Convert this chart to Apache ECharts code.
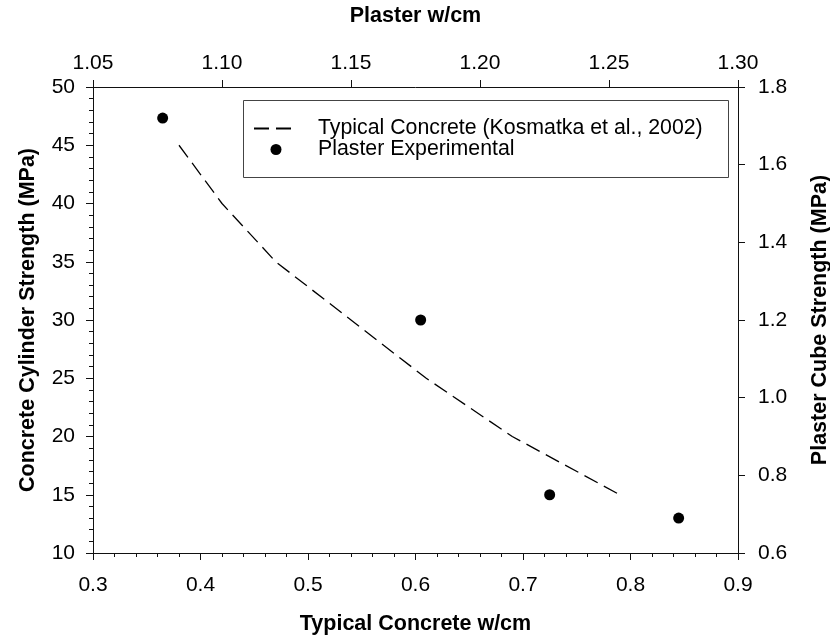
<!DOCTYPE html>
<html>
<head>
<meta charset="utf-8">
<script src="https://cdn.jsdelivr.net/npm/echarts@6/dist/echarts.min.js"></script>
<style>html,body{margin:0;padding:0;background:#fff}#c{width:830px;height:642px}</style>
</head>
<body>
<div id="c"></div>
<script>
// Typical concrete (Kosmatka et al., 2002)
var concreteWcm = [0.38, 0.42, 0.47, 0.54, 0.61, 0.69, 0.79];
var concreteStrength = [45, 40, 35, 30, 25, 20, 15];
// Plaster experimental
var plasterWcm = [1.077, 1.177, 1.227, 1.277];
var plasterStrength = [1.72, 1.20, 0.75, 0.69];

var seriesNames = ['Typical Concrete (Kosmatka et al., 2002)', 'Plaster Experimental'];

var FONT = '"Liberation Sans", Arial, sans-serif';
var axisCol = '#111';

function pairs(xs, ys) { return xs.map(function (x, i) { return [x, ys[i]]; }); }

var chart = echarts.init(document.getElementById('c'));
var labelStyle = { color: '#000', fontFamily: FONT, fontSize: 21 };
var nameStyle = { color: '#000', fontFamily: FONT, fontSize: 21.5, fontWeight: 'bold' };

chart.setOption({
  animation: false,
  backgroundColor: '#fff',
  grid: { left: 93, right: 92, top: 87, bottom: 89, containLabel: false, outerBoundsMode: 'none' },
  xAxis: [
    {
      type: 'value', position: 'bottom', min: 0.3, max: 0.9, interval: 0.1,
      name: 'Typical Concrete w/cm', nameLocation: 'middle', nameGap: 60, nameTextStyle: nameStyle,
      axisLine: { show: true, onZero: false, lineStyle: { color: axisCol, width: 1 } },
      axisTick: { show: true, inside: false, length: 7, lineStyle: { color: axisCol } },
      minorTick: { show: true, splitNumber: 5, length: 4, lineStyle: { color: axisCol } },
      splitLine: { show: false },
      axisLabel: Object.assign({ margin: 22, formatter: function (v) { return v.toFixed(1); } }, labelStyle)
    },
    {
      type: 'value', position: 'top', min: 1.05, max: 1.30, interval: 0.05,
      name: 'Plaster w/cm', nameLocation: 'middle', nameGap: 60, nameTextStyle: nameStyle,
      axisLine: { show: true, onZero: false, lineStyle: { color: axisCol, width: 1 } },
      axisTick: { show: true, inside: false, length: 7, lineStyle: { color: axisCol } },
      splitLine: { show: false },
      axisLabel: Object.assign({ margin: 13, formatter: function (v) { return v.toFixed(2); } }, labelStyle)
    }
  ],
  yAxis: [
    {
      type: 'value', position: 'left', min: 10, max: 50, interval: 5,
      name: 'Concrete Cylinder Strength (MPa)', nameLocation: 'middle', nameGap: 54, nameTextStyle: nameStyle,
      axisLine: { show: true, onZero: false, lineStyle: { color: axisCol, width: 1 } },
      axisTick: { show: true, inside: false, length: 7, lineStyle: { color: axisCol } },
      minorTick: { show: true, splitNumber: 5, length: 4, lineStyle: { color: axisCol } },
      splitLine: { show: false },
      axisLabel: Object.assign({ margin: 18 }, labelStyle)
    },
    {
      type: 'value', position: 'right', min: 0.6, max: 1.8, interval: 0.2,
      name: 'Plaster Cube Strength (MPa)', nameLocation: 'middle', nameGap: 71, nameTextStyle: nameStyle,
      axisLine: { show: true, onZero: false, lineStyle: { color: axisCol, width: 1 } },
      axisTick: { show: true, inside: false, length: 7, lineStyle: { color: axisCol } },
      splitLine: { show: false },
      axisLabel: Object.assign({ margin: 20, formatter: function (v) { return v.toFixed(1); } }, labelStyle)
    }
  ],
  legend: {
    orient: 'vertical', left: 253, top: 118,
    itemWidth: 44, itemHeight: 11, itemGap: 0,
    padding: 0,
    textStyle: { color: '#000', fontFamily: FONT, fontSize: 21.3, lineHeight: 21, padding: [0, 0, 0, 15] },
    data: [
      { name: seriesNames[0], itemStyle: { opacity: 0 } },
      { name: seriesNames[1], icon: 'circle' }
    ]
  },
  graphic: [{
    type: 'rect', left: 241, top: 98, z: 1,
    shape: { width: 485, height: 77 },
    style: { fill: null, stroke: '#444', lineWidth: 1 }
  }],
  series: [
    {
      name: seriesNames[0], type: 'line', xAxisIndex: 0, yAxisIndex: 0,
      data: pairs(concreteWcm, concreteStrength),
      symbol: 'none', smooth: false,
      lineStyle: { color: '#000', width: 1.3, type: [15, 7] },
      itemStyle: { color: '#000' }
    },
    {
      name: seriesNames[1], type: 'scatter', xAxisIndex: 1, yAxisIndex: 1,
      data: pairs(plasterWcm, plasterStrength),
      symbol: 'circle', symbolSize: 11,
      itemStyle: { color: '#000', opacity: 1 }
    }
  ]
});
</script>
</body>
</html>
